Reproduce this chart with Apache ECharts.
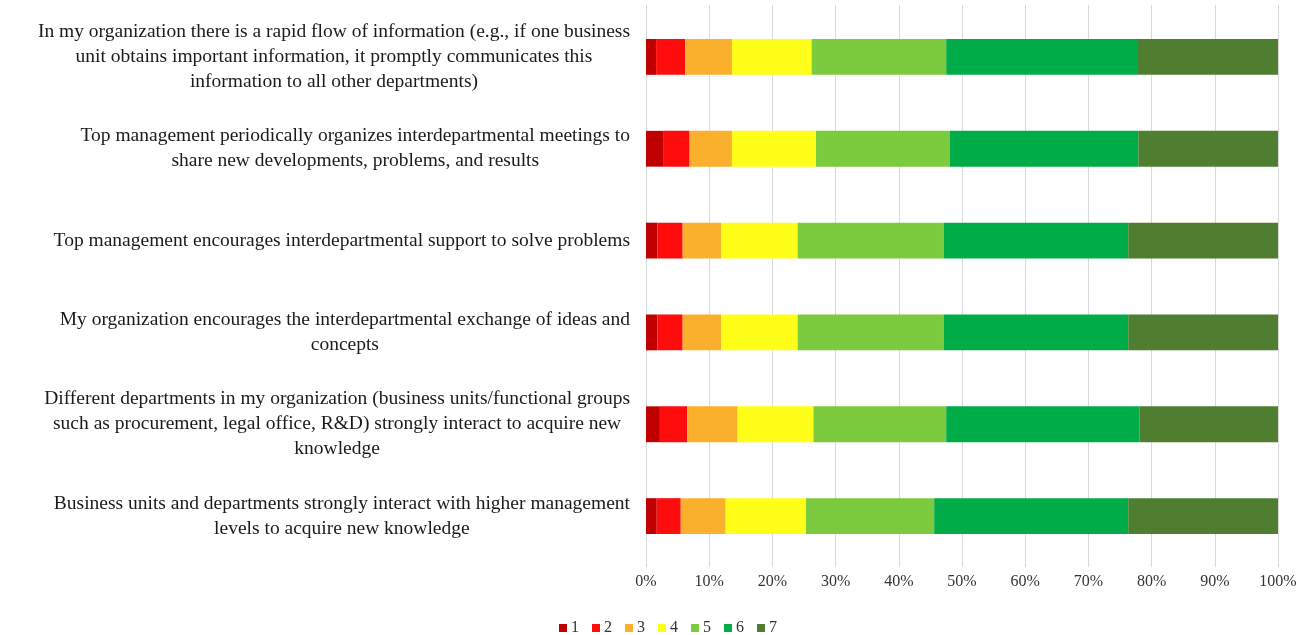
<!DOCTYPE html>
<html>
<head>
<meta charset="utf-8">
<script src="https://cdn.jsdelivr.net/npm/echarts@6/dist/echarts.min.js"></script>
<style>
  html, body { margin: 0; padding: 0; background: #ffffff; }
  #chart { width: 1312px; height: 635px; }
</style>
</head>
<body>
<div id="chart"></div>
<script>
// Survey statements (top to bottom), with their line breaks
const statements = [
  "In my organization there is a rapid flow of information (e.g., if one business\nunit obtains important information, it promptly communicates this\ninformation to all other departments)",
  "Top management periodically organizes interdepartmental meetings to\nshare new developments, problems, and results",
  "Top management encourages interdepartmental support to solve problems",
  "My organization encourages the interdepartmental exchange of ideas and\nconcepts",
  "Different departments in my organization (business units/functional groups\nsuch as procurement, legal office, R&D) strongly interact to acquire new\nknowledge",
  "Business units and departments strongly interact with higher management\nlevels to acquire new knowledge"
];

// Likert scale points
const scaleNames = ["1", "2", "3", "4", "5", "6", "7"];

// Share of answers (%) per scale point, one value per statement
const score1 = [1.6, 2.7, 1.8, 1.8, 2.2, 1.7];
const score2 = [4.6, 4.2, 4.0, 4.0, 4.3, 3.8];
const score3 = [7.4, 6.7, 6.1, 6.1, 8.0, 7.1];
const score4 = [12.6, 13.3, 12.1, 12.1, 12.0, 12.7];
const score5 = [21.3, 21.2, 23.1, 23.1, 21.0, 20.3];
const score6 = [30.2, 29.8, 29.2, 29.2, 30.6, 30.7];
const score7 = [22.3, 22.1, 23.7, 23.7, 21.9, 23.7];

const scoreValues = [score1, score2, score3, score4, score5, score6, score7];
const scoreColors = ["#C00000", "#FF0D0D", "#FBB02D", "#FFFF1A", "#7CCB3E", "#00AC48", "#4F7E31"];

const serif = "'Liberation Serif', 'Times New Roman', 'DejaVu Serif', serif";

const series = scaleNames.map((name, i) => ({
  name: name,
  type: "bar",
  stack: "total",
  barWidth: "39%",
  itemStyle: { color: scoreColors[i] },
  emphasis: { disabled: true },
  data: scoreValues[i]
}));

const chart = echarts.init(document.getElementById("chart"), null, { renderer: "canvas" });

chart.setOption({
  animation: false,
  backgroundColor: "#ffffff",
  grid: { left: 646, right: 34, top: 11, bottom: 73, containLabel: false },
  legend: {
    top: 615,
    left: 554,
    icon: "rect",
    itemWidth: 8,
    itemHeight: 8,
    itemGap: 13,
    textStyle: { fontFamily: serif, fontSize: 16, color: "#333333", padding: [0, 0, 0, -1] },
    data: scaleNames
  },
  xAxis: [{
    type: "value",
    min: 0,
    max: 100,
    interval: 10,
    axisLine: { show: false },
    axisTick: { show: true, length: 5, lineStyle: { color: "#D9D9D9" } },
    splitLine: { show: true, lineStyle: { color: "#D9D9D9", width: 1 } },
    axisLabel: {
      formatter: "{value}%",
      fontFamily: serif,
      fontSize: 16,
      color: "#333333",
      margin: 12
    }
  }, {
    // upper extension of the vertical gridlines
    type: "value",
    position: "top",
    min: 0,
    max: 100,
    interval: 10,
    axisLine: { show: false },
    axisTick: { show: true, length: 6, lineStyle: { color: "#D9D9D9" } },
    splitLine: { show: false },
    axisLabel: { show: false }
  }],
  yAxis: {
    type: "category",
    inverse: true,
    data: statements,
    axisLine: { show: true, lineStyle: { color: "#D9D9D9" } },
    axisTick: { show: false },
    axisLabel: {
      margin: 16,
      align: "right",
      formatter: function (value) {
        return value.split("\n").map(line => "{c|" + line + "}").join("\n");
      },
      rich: {
        c: {
          align: "center",
          fontFamily: serif,
          fontSize: 19.5,
          lineHeight: 25,
          color: "#1a1a1a"
        }
      }
    }
  },
  series: series
});
</script>
</body>
</html>
